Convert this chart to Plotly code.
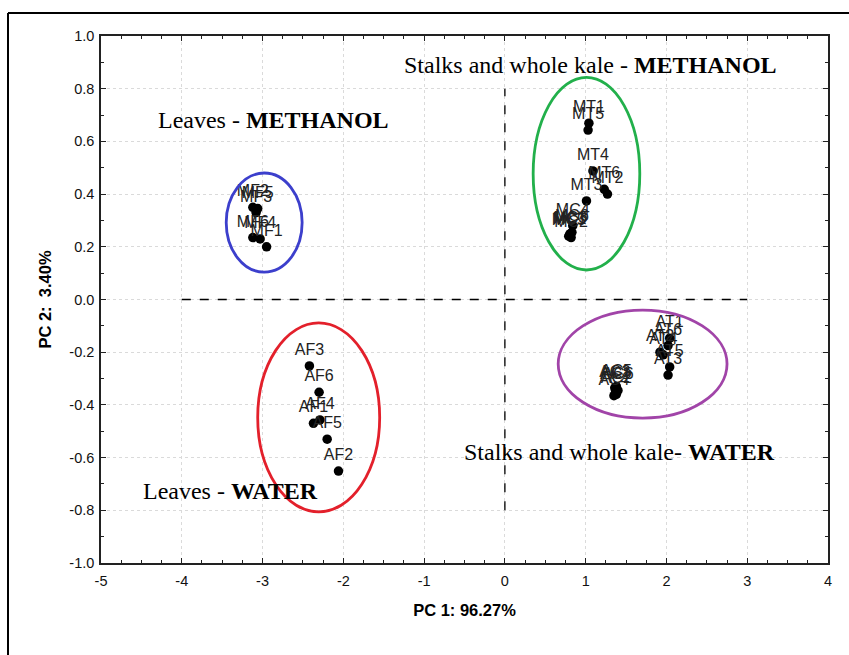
import plotly.graph_objects as go

# ---- data ----
mf_labels = ["MF1", "MF2", "MF3", "MF4", "MF5", "MF6"]
mf_x = [-2.95, -3.12, -3.08, -3.03, -3.06, -3.12]
mf_y = [0.20, 0.35, 0.33, 0.23, 0.345, 0.235]

mt_labels = ["MT1", "MT2", "MT3", "MT4", "MT5", "MT6"]
mt_x = [1.04, 1.27, 1.01, 1.09, 1.03, 1.23]
mt_y = [0.669, 0.40, 0.374, 0.488, 0.643, 0.418]

mc_labels = ["MC1", "MC2", "MC3", "MC4", "MC5", "MC6"]
mc_x = [0.80, 0.82, 0.81, 0.84, 0.79, 0.83]
mc_y = [0.245, 0.235, 0.25, 0.28, 0.24, 0.255]

at_labels = ["AT1", "AT2", "AT3", "AT4", "AT5", "AT6"]
at_x = [2.04, 1.92, 2.02, 1.96, 2.04, 2.02]
at_y = [-0.147, -0.20, -0.287, -0.21, -0.256, -0.175]

ac_labels = ["AC1", "AC2", "AC3", "AC4", "AC5", "AC6"]
ac_x = [1.37, 1.38, 1.36, 1.35, 1.38, 1.40]
ac_y = [-0.345, -0.36, -0.335, -0.365, -0.33, -0.345]

af_labels = ["AF1", "AF2", "AF3", "AF4", "AF5", "AF6"]
af_x = [-2.37, -2.06, -2.42, -2.29, -2.20, -2.30]
af_y = [-0.47, -0.651, -0.252, -0.457, -0.53, -0.352]

# ellipses
ellipse_names = ["Leaves MeOH", "Stalks MeOH", "Leaves water", "Stalks water"]
ellipse_x0 = [-3.45, 0.35, -3.06, 0.66]
ellipse_x1 = [-2.51, 1.67, -1.55, 2.75]
ellipse_y0 = [0.104, 0.112, -0.806, -0.45]
ellipse_y1 = [0.48, 0.843, -0.089, -0.04]
ellipse_colors = ["#3c3fcc", "#22b04b", "#e3202b", "#a144a8"]

group_texts = ["Leaves - <b>METHANOL</b>",
               "Stalks and whole kale - <b>METHANOL</b>",
               "Stalks and whole kale- <b>WATER</b>",
               "Leaves - <b>WATER</b>"]
group_tx = [-2.86, 1.065, 1.42, -3.40]
group_ty = [0.681, 0.89, -0.579, -0.727]

x_tickvals = [-5, -4, -3, -2, -1, 0, 1, 2, 3, 4]
x_ticktext = ["-5", "-4", "-3", "-2", "-1", "0", "1", "2", "3", "4"]
y_tickvals = [-1.0, -0.8, -0.6, -0.4, -0.2, 0.0, 0.2, 0.4, 0.6, 0.8, 1.0]
y_ticktext = ["-1.0", "-0.8", "-0.6", "-0.4", "-0.2", "0.0", "0.2", "0.4", "0.6", "0.8", "1.0"]

x_title = "PC 1: 96.27%"
y_title = "PC 2:  3.40%"

fig = go.Figure()

for xs, ys, labs in [(mf_x, mf_y, mf_labels), (mt_x, mt_y, mt_labels),
                     (mc_x, mc_y, mc_labels), (at_x, at_y, at_labels),
                     (ac_x, ac_y, ac_labels), (af_x, af_y, af_labels)]:
    fig.add_trace(go.Scatter(
        x=xs, y=ys, text=labs, mode="markers+text",
        textposition="top center",
        textfont=dict(family="Liberation Sans, Arial", size=16, color="#222"),
        marker=dict(color="black", size=9.5),
        showlegend=False, cliponaxis=False))

for x0, x1, y0, y1, c in zip(ellipse_x0, ellipse_x1, ellipse_y0, ellipse_y1, ellipse_colors):
    fig.add_shape(type="circle", xref="x", yref="y", x0=x0, x1=x1, y0=y0, y1=y1,
                  line=dict(color=c, width=2.8), layer="above")

# dashed reference lines
fig.add_shape(type="line", xref="x", yref="y", x0=-4, x1=3, y0=0, y1=0,
              line=dict(color="black", width=1.3, dash="dash"))
fig.add_shape(type="line", xref="x", yref="y", x0=0, x1=0, y0=-0.8, y1=0.8,
              line=dict(color="black", width=1.3, dash="dash"))

for t, tx, ty in zip(group_texts, group_tx, group_ty):
    fig.add_annotation(x=tx, y=ty, xref="x", yref="y", text=t, showarrow=False,
                       font=dict(family="Liberation Serif, Times New Roman", size=24, color="black"))

# outer frame (partial, as in the reference)
L, R, T, B = 101, 828, 36, 563
W, H = R - L, B - T
def px(x):
    return (x - L) / W
def py(y):
    return (B - y) / H
fig.add_shape(type="line", xref="paper", yref="paper", x0=px(8), x1=px(8), y0=py(13), y1=py(660),
              line=dict(color="black", width=2))
fig.add_shape(type="line", xref="paper", yref="paper", x0=px(8), x1=px(855), y0=py(13), y1=py(13),
              line=dict(color="black", width=2))

axis_common = dict(showline=True, linecolor="#222", linewidth=1.5, mirror="ticks",
                   ticks="inside", ticklen=5, tickcolor="#222", zeroline=False,
                   showgrid=True, gridcolor="#dadada", griddash="dot", gridwidth=1,
                   tickfont=dict(family="Liberation Sans, Arial", size=14.5, color="#111"))

fig.update_xaxes(range=[-5, 4], tickmode="array", tickvals=x_tickvals, ticktext=x_ticktext,
                 ticklabelstandoff=4,
                 minor=dict(ticks="inside", dtick=0.25, tick0=-5, ticklen=3, tickcolor="#222", showgrid=False),
                 title=dict(text=x_title, font=dict(family="Liberation Sans, Arial", size=16.5, color="black", weight="bold"), standoff=16),
                 **axis_common)
fig.update_yaxes(range=[-1, 1], tickmode="array", tickvals=y_tickvals, ticktext=y_ticktext,
                 ticklabelstandoff=2,
                 minor=dict(ticks="inside", dtick=0.1, tick0=-1, ticklen=3, tickcolor="#222", showgrid=False),
                 title=dict(text=y_title, font=dict(family="Liberation Sans, Arial", size=16.5, color="black", weight="bold"), standoff=14),
                 **axis_common)
fig.update_layout(
    width=849, height=655,
    margin=dict(l=L, r=849 - R, t=T, b=655 - B),
    plot_bgcolor="white", paper_bgcolor="white",
    font=dict(family="Liberation Sans, Arial"),
)
fig.write_html("out.html")
